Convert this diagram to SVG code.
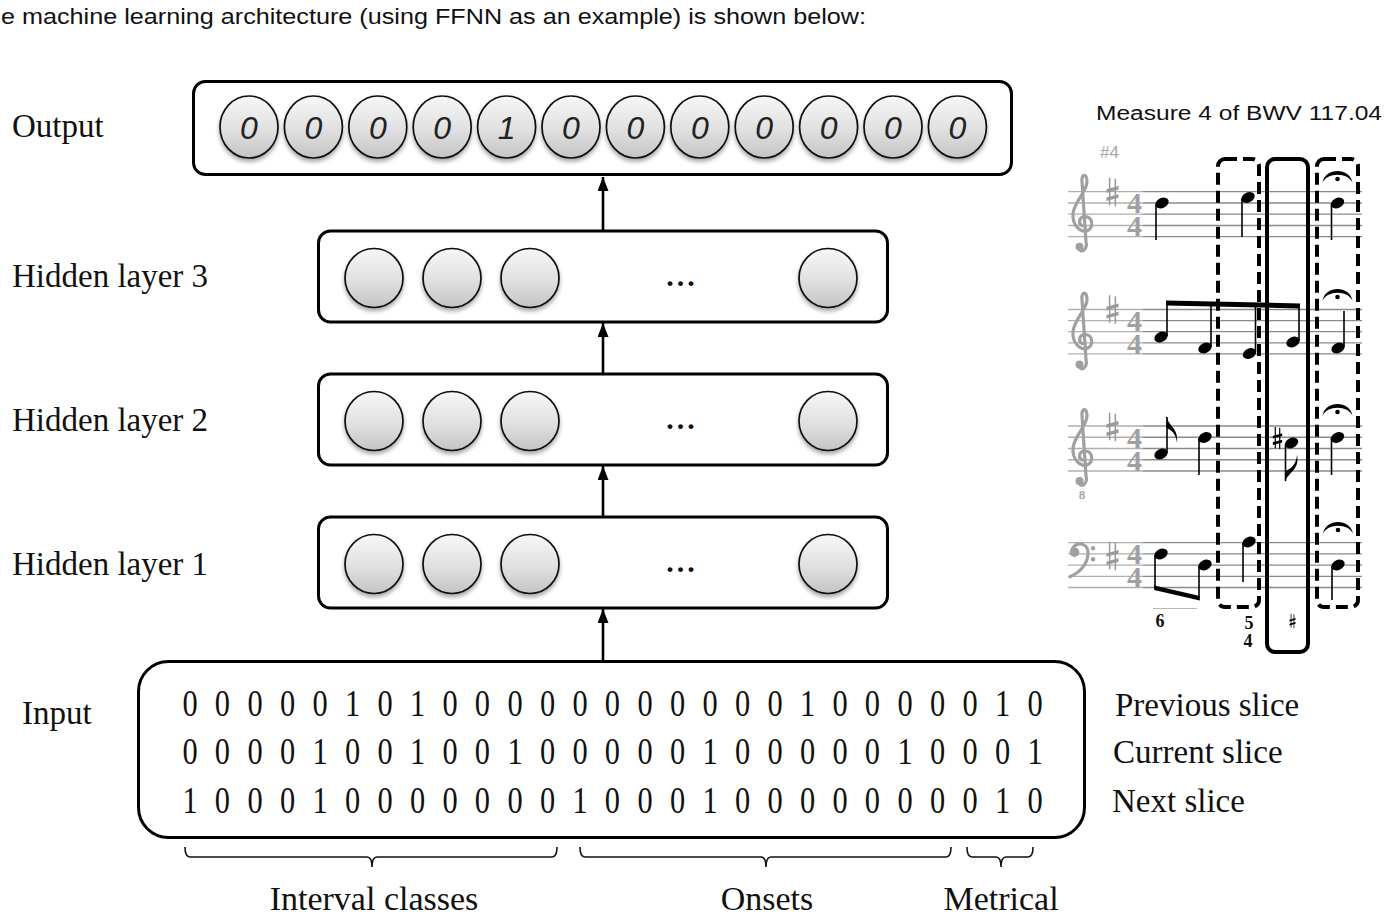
<svg xmlns="http://www.w3.org/2000/svg" width="1384" height="923" viewBox="0 0 1384 923">
  <style>
    .serif { font-family: "Liberation Serif", "Times New Roman", serif; fill: #111; }
    .label { font-size: 33px; }
    .bits { font-size: 38px; }
    .sans { font-family: "Liberation Sans", Arial, sans-serif; fill: #111; }
    .box { fill: #fff; stroke: #000; stroke-width: 3; }
    .unit { fill: url(#unitFill); stroke: #111; stroke-width: 1.7; }
    .outdigit { font-family: "Liberation Sans", Arial, sans-serif; font-style: italic; font-size: 32px; fill: #222; text-anchor: middle; }
    .conn { stroke: #000; stroke-width: 2.6; fill: none; }
    .brace { stroke: #111; stroke-width: 1.6; fill: none; }
    .staffL { stroke: #b0b0b0; stroke-width: 1.3; }
    .staffR { stroke: #8a8a8a; stroke-width: 1.3; }
    .clef { fill: none; stroke: #a0a0a0; stroke-width: 3.2; stroke-linecap: round; }
    .ts { font-family: "Liberation Serif", "Times New Roman", serif; font-weight: bold; font-size: 30px; fill: #a0a0a0; text-anchor: middle; }
    .stem { stroke: #000; stroke-width: 1.6; }
    .fig { font-family: "Liberation Serif", "Times New Roman", serif; font-weight: bold; font-size: 18px; fill: #111; text-anchor: middle; }
    .dashbox { fill: none; stroke: #000; stroke-width: 4; stroke-dasharray: 12 6; }
    .solidbox { fill: none; stroke: #000; stroke-width: 4; }
  </style>
  <defs>
    <linearGradient id="unitFill" x1="0" y1="0" x2="0" y2="1">
      <stop offset="0" stop-color="#f7f7f7"/>
      <stop offset="0.55" stop-color="#e0e0e0"/>
      <stop offset="1" stop-color="#c4c4c4"/>
    </linearGradient>
    <filter id="shade" x="-20%" y="-20%" width="140%" height="150%">
      <feDropShadow dx="0" dy="3" stdDeviation="2.2" flood-color="#000" flood-opacity="0.35"/>
    </filter>
    <marker id="arrow" markerUnits="userSpaceOnUse" markerWidth="14" markerHeight="11" refX="14" refY="5.5" orient="auto">
      <path d="M0,0 L14,5.5 L0,11 Z" fill="#000"/>
    </marker>
    <ellipse id="head" cx="0" cy="0" rx="7" ry="5" transform="rotate(-25)" fill="#000"/>
    <g id="sharp">
      <path d="M-2.6,-13 L-2.6,12 M2.6,-12 L2.6,13" stroke="currentColor" stroke-width="1.4"/>
      <path d="M-5.5,-2.5 L5.5,-5.5 L5.5,-2.3 L-5.5,0.7 Z M-5.5,5 L5.5,2 L5.5,5.2 L-5.5,8.2 Z" fill="currentColor"/>
    </g>
    <g id="fermata">
      <path d="M-15,7 C-13,-9 13,-9 15,7 C11,-4 -11,-4 -15,7 Z" fill="#000"/>
      <circle cx="0" cy="3" r="2.3" fill="#000"/>
    </g>
    <g id="treble">
      <path class="clef" d="M7,57 C9,62 16,58 14,50 L10,-10 C9,-18 15,-19 15,-10 C15,0 2,10 1,22 C0,35 10,41 15,39 C22,36 21,25 13,25 C7,25 6,32 10,34"/>
      <circle cx="7.5" cy="55" r="4" fill="#a0a0a0"/>
    </g>
    <g id="bass">
      <path class="clef" d="M2,9 C2,-1 18,-2 18,10 C18,22 9,30 0,34" stroke-width="3.6"/>
      <circle cx="4.5" cy="9.5" r="4.8" fill="#a0a0a0"/>
      <circle cx="23" cy="5.5" r="2.2" fill="#a0a0a0"/>
      <circle cx="23" cy="16.5" r="2.2" fill="#a0a0a0"/>
    </g>
  </defs>

  <rect width="1384" height="923" fill="#fff"/>

  <!-- lead-in sentence -->
  <text class="sans" x="1" y="24" font-size="22" textLength="865" lengthAdjust="spacingAndGlyphs">e machine learning architecture (using FFNN as an example) is shown below:</text>

  <!-- layer labels -->
  <g id="labels" class="serif label">
    <text x="12" y="137">Output</text>
    <text x="12" y="287">Hidden layer 3</text>
    <text x="12" y="431">Hidden layer 2</text>
    <text x="12" y="575">Hidden layer 1</text>
    <text x="22" y="724">Input</text>
    <text x="1115" y="716">Previous slice</text>
    <text x="1113" y="763">Current slice</text>
    <text x="1112" y="812">Next slice</text>
  </g>

  <!-- connectors between layers -->
  <g id="connectors">
    <line class="conn" x1="603" y1="230" x2="603" y2="177" marker-end="url(#arrow)"/>
    <line class="conn" x1="603" y1="373" x2="603" y2="323" marker-end="url(#arrow)"/>
    <line class="conn" x1="603" y1="517" x2="603" y2="466" marker-end="url(#arrow)"/>
    <line class="conn" x1="603" y1="661" x2="603" y2="609" marker-end="url(#arrow)"/>
  </g>

  <!-- output layer -->
  <g id="output">
    <rect class="box" x="193.5" y="81.5" width="818" height="93" rx="12"/>
    <g filter="url(#shade)">
      <ellipse class="unit" cx="249" cy="127" rx="29" ry="31"/>
      <ellipse class="unit" cx="313.4" cy="127" rx="29" ry="31"/>
      <ellipse class="unit" cx="377.8" cy="127" rx="29" ry="31"/>
      <ellipse class="unit" cx="442.2" cy="127" rx="29" ry="31"/>
      <ellipse class="unit" cx="506.6" cy="127" rx="29" ry="31"/>
      <ellipse class="unit" cx="571" cy="127" rx="29" ry="31"/>
      <ellipse class="unit" cx="635.4" cy="127" rx="29" ry="31"/>
      <ellipse class="unit" cx="699.8" cy="127" rx="29" ry="31"/>
      <ellipse class="unit" cx="764.2" cy="127" rx="29" ry="31"/>
      <ellipse class="unit" cx="828.6" cy="127" rx="29" ry="31"/>
      <ellipse class="unit" cx="893" cy="127" rx="29" ry="31"/>
      <ellipse class="unit" cx="957.4" cy="127" rx="29" ry="31"/>
    </g>
    <text class="outdigit" y="139"><tspan x="249">0</tspan><tspan x="313.4">0</tspan><tspan x="377.8">0</tspan><tspan x="442.2">0</tspan><tspan x="506.6">1</tspan><tspan x="571">0</tspan><tspan x="635.4">0</tspan><tspan x="699.8">0</tspan><tspan x="764.2">0</tspan><tspan x="828.6">0</tspan><tspan x="893">0</tspan><tspan x="957.4">0</tspan></text>
  </g>

  <!-- hidden layer 3 -->
  <g id="hidden3">
    <rect class="box" x="318.5" y="231" width="569" height="91" rx="12"/>
    <g filter="url(#shade)">
      <ellipse class="unit" cx="374" cy="278" rx="29" ry="29.5"/>
      <ellipse class="unit" cx="452" cy="278" rx="29" ry="29.5"/>
      <ellipse class="unit" cx="530" cy="278" rx="29" ry="29.5"/>
      <ellipse class="unit" cx="828" cy="278" rx="29" ry="29.5"/>
    </g>
    <text class="serif" x="682" y="286" font-size="30" font-weight="bold" text-anchor="middle" letter-spacing="3">...</text>
  </g>

  <!-- hidden layer 2 -->
  <g id="hidden2">
    <rect class="box" x="318.5" y="374" width="569" height="91" rx="12"/>
    <g filter="url(#shade)">
      <ellipse class="unit" cx="374" cy="421" rx="29" ry="29.5"/>
      <ellipse class="unit" cx="452" cy="421" rx="29" ry="29.5"/>
      <ellipse class="unit" cx="530" cy="421" rx="29" ry="29.5"/>
      <ellipse class="unit" cx="828" cy="421" rx="29" ry="29.5"/>
    </g>
    <text class="serif" x="682" y="429" font-size="30" font-weight="bold" text-anchor="middle" letter-spacing="3">...</text>
  </g>

  <!-- hidden layer 1 -->
  <g id="hidden1">
    <rect class="box" x="318.5" y="517" width="569" height="91" rx="12"/>
    <g filter="url(#shade)">
      <ellipse class="unit" cx="374" cy="564" rx="29" ry="29.5"/>
      <ellipse class="unit" cx="452" cy="564" rx="29" ry="29.5"/>
      <ellipse class="unit" cx="530" cy="564" rx="29" ry="29.5"/>
      <ellipse class="unit" cx="828" cy="564" rx="29" ry="29.5"/>
    </g>
    <text class="serif" x="682" y="572" font-size="30" font-weight="bold" text-anchor="middle" letter-spacing="3">...</text>
  </g>

  <!-- input layer: three slices of 27 features each -->
  <g id="input">
    <rect class="box" x="138.5" y="661.5" width="946" height="176" rx="30"/>
    <g class="serif bits" text-anchor="middle" transform="scale(0.8 1)">
      <text y="716" x="237.5 278.1 318.8 359.4 400.0 440.6 481.3 521.9 562.5 603.1 643.8 684.4 725.0 765.6 806.3 846.9 887.5 928.1 968.8 1009.4 1050.0 1090.6 1131.3 1171.9 1212.5 1253.1 1293.8">000001010000000000010000010</text>
      <text y="764" x="237.5 278.1 318.8 359.4 400.0 440.6 481.3 521.9 562.5 603.1 643.8 684.4 725.0 765.6 806.3 846.9 887.5 928.1 968.8 1009.4 1050.0 1090.6 1131.3 1171.9 1212.5 1253.1 1293.8">000010010010000010000010001</text>
      <text y="813" x="237.5 278.1 318.8 359.4 400.0 440.6 481.3 521.9 562.5 603.1 643.8 684.4 725.0 765.6 806.3 846.9 887.5 928.1 968.8 1009.4 1050.0 1090.6 1131.3 1171.9 1212.5 1253.1 1293.8">100010000000100010000000010</text>
    </g>
  </g>

  <!-- feature group braces -->
  <g id="groups">
    <path class="brace" d="M185,847 Q185,857 190,857 L367,857 Q372,857 372,867 Q372,857 377,857 L552,857 Q557,857 557,847"/>
    <path class="brace" d="M580,847 Q580,857 585,857 L761,857 Q766,857 766,867 Q766,857 771,857 L946,857 Q951,857 951,847"/>
    <path class="brace" d="M967,847 Q967,857 972,857 L996,857 Q1001,857 1001,867 Q1001,857 1006,857 L1028,857 Q1033,857 1033,847"/>
    <text class="serif" font-size="34" x="374" y="910" text-anchor="middle">Interval classes</text>
    <text class="serif" font-size="34" x="767" y="910" text-anchor="middle">Onsets</text>
    <text class="serif" font-size="34" x="1001" y="910" text-anchor="middle">Metrical</text>
  </g>

  <!-- score excerpt -->
  <g id="score">
    <text class="sans" x="1096" y="120" font-size="20" textLength="286" lengthAdjust="spacingAndGlyphs">Measure 4 of BWV 117.04</text>
    <text x="1100" y="158" font-family="Liberation Sans, Arial, sans-serif" font-size="17" fill="#a6a6a6">#4</text>

    <!-- staff lines -->
    <g id="staves">
      <path class="staffL" d="M1068,191.7H1143M1068,203H1143M1068,214.2H1143M1068,225.5H1143M1068,236.7H1143"/>
      <path class="staffR" d="M1143,191.7H1362M1143,203H1362M1143,214.2H1362M1143,225.5H1362M1143,236.7H1362"/>
      <path class="staffL" d="M1068,309.5H1143M1068,320.6H1143M1068,331.7H1143M1068,342.8H1143M1068,353.9H1143"/>
      <path class="staffR" d="M1143,309.5H1362M1143,320.6H1362M1143,331.7H1362M1143,342.8H1362M1143,353.9H1362"/>
      <path class="staffL" d="M1068,426H1143M1068,437.25H1143M1068,448.5H1143M1068,459.75H1143M1068,471H1143"/>
      <path class="staffR" d="M1143,426H1362M1143,437.25H1362M1143,448.5H1362M1143,459.75H1362M1143,471H1362"/>
      <path class="staffL" d="M1068,542.7H1143M1068,553.9H1143M1068,565.1H1143M1068,576.3H1143M1068,587.5H1143"/>
      <path class="staffR" d="M1143,542.7H1362M1143,553.9H1362M1143,565.1H1362M1143,576.3H1362M1143,587.5H1362"/>
    </g>

    <!-- clefs, key and time signatures -->
    <g id="signatures">
      <use href="#treble" transform="translate(1072,191.7)"/>
      <use href="#treble" transform="translate(1072,309.5)"/>
      <use href="#treble" transform="translate(1072,426)"/>
      <text x="1082" y="499" font-family="Liberation Serif, serif" font-weight="bold" font-size="13" fill="#a6a6a6" text-anchor="middle">8</text>
      <use href="#bass" transform="translate(1070,542.7)"/>
      <g color="#9a9a9a">
        <use href="#sharp" transform="translate(1112.5,192) scale(1.1)"/>
        <use href="#sharp" transform="translate(1112.5,309.5) scale(1.1)"/>
        <use href="#sharp" transform="translate(1112.5,427) scale(1.1)"/>
        <use href="#sharp" transform="translate(1112.5,556) scale(1.1)"/>
      </g>
      <text class="ts"><tspan x="1134.5" y="213.4">4</tspan><tspan x="1134.5" y="236.2">4</tspan></text>
      <text class="ts"><tspan x="1134.5" y="331.2">4</tspan><tspan x="1134.5" y="354">4</tspan></text>
      <text class="ts"><tspan x="1134.5" y="447.7">4</tspan><tspan x="1134.5" y="470.5">4</tspan></text>
      <text class="ts"><tspan x="1134.5" y="564.4">4</tspan><tspan x="1134.5" y="587.2">4</tspan></text>
    </g>

    <!-- soprano -->
    <g id="soprano">
      <use href="#head" transform="translate(1162,203)"/>
      <line class="stem" x1="1156" y1="204" x2="1156" y2="240"/>
      <use href="#head" transform="translate(1248,197.5)"/>
      <line class="stem" x1="1242" y1="199" x2="1242" y2="237"/>
      <use href="#head" transform="translate(1337.5,203)"/>
      <line class="stem" x1="1331.5" y1="204" x2="1331.5" y2="240"/>
      <use href="#fermata" transform="translate(1337.5,176)"/>
    </g>

    <!-- alto -->
    <g id="alto">
      <use href="#head" transform="translate(1161,337)"/>
      <line class="stem" x1="1167" y1="336" x2="1167" y2="303"/>
      <use href="#head" transform="translate(1205,348)"/>
      <line class="stem" x1="1211" y1="347" x2="1211" y2="304"/>
      <use href="#head" transform="translate(1249.5,353.5)"/>
      <line class="stem" x1="1255.5" y1="352" x2="1255.5" y2="305"/>
      <use href="#head" transform="translate(1293,342)"/>
      <line class="stem" x1="1299" y1="341" x2="1299" y2="306"/>
      <path d="M1166,300.5 L1300,303.5 L1300,308.5 L1166,305.5 Z" fill="#000"/>
      <use href="#head" transform="translate(1338,348)"/>
      <line class="stem" x1="1344" y1="347" x2="1344" y2="311"/>
      <use href="#fermata" transform="translate(1337.5,294)"/>
    </g>

    <!-- tenor -->
    <g id="tenor">
      <use href="#head" transform="translate(1161,454)"/>
      <line class="stem" x1="1167" y1="453" x2="1167" y2="417"/>
      <path d="M1166.5,416 C1168,426 1179,428 1177,443 C1176,433 1171,430 1166.5,428 Z" fill="#000"/>
      <use href="#head" transform="translate(1205,437.5)"/>
      <line class="stem" x1="1199" y1="438" x2="1199" y2="475"/>
      <use href="#sharp" transform="translate(1277.5,438) scale(0.85)" color="#000"/>
      <use href="#head" transform="translate(1291.5,443)"/>
      <line class="stem" x1="1285.5" y1="444" x2="1285.5" y2="481"/>
      <path d="M1285,482 C1288,472 1300,470 1297,455 C1296,466 1290,469 1285,471 Z" fill="#000"/>
      <use href="#head" transform="translate(1337.5,437.5)"/>
      <line class="stem" x1="1331.5" y1="438" x2="1331.5" y2="475"/>
      <use href="#fermata" transform="translate(1337.5,409)"/>
    </g>

    <!-- bass -->
    <g id="bassline">
      <use href="#head" transform="translate(1161,554)"/>
      <line class="stem" x1="1155" y1="555" x2="1155" y2="588"/>
      <use href="#head" transform="translate(1205,565)"/>
      <line class="stem" x1="1199" y1="566" x2="1199" y2="598"/>
      <path d="M1154.2,585.5 L1199.8,596 L1199.8,600.5 L1154.2,590 Z" fill="#000"/>
      <use href="#head" transform="translate(1249,542)"/>
      <line class="stem" x1="1243" y1="543" x2="1243" y2="582"/>
      <use href="#head" transform="translate(1338,565)"/>
      <line class="stem" x1="1332" y1="566" x2="1332" y2="600"/>
      <use href="#fermata" transform="translate(1338,527)"/>
    </g>

    <!-- figured bass -->
    <g id="figures">
      <line x1="1153" y1="608.5" x2="1197" y2="608.5" stroke="#b8b8b8" stroke-width="1.2"/>
      <text class="fig" x="1160" y="627">6</text>
      <text class="fig" x="1249" y="629">5</text>
      <text class="fig" x="1248" y="647">4</text>
      <use href="#sharp" transform="translate(1292.5,621) scale(0.55)" color="#000"/>
    </g>

    <!-- highlighted slices -->
    <g id="slices">
      <rect class="dashbox" x="1218" y="159" width="41" height="448" rx="7"/>
      <rect class="solidbox" x="1267" y="159" width="41" height="493" rx="8"/>
      <rect class="dashbox" x="1317" y="159" width="41" height="448" rx="7"/>
    </g>
  </g>
</svg>
